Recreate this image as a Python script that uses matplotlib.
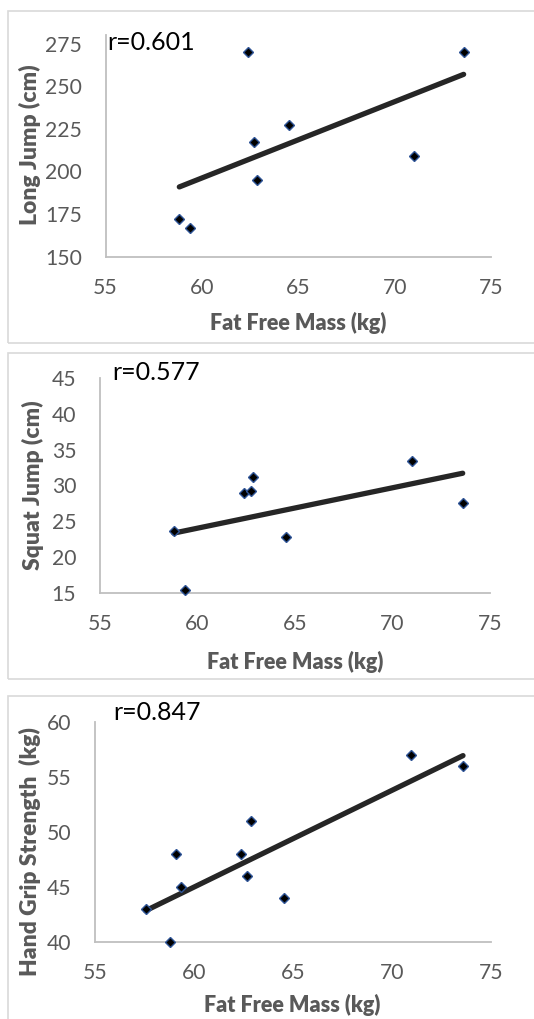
import numpy as np
import matplotlib
matplotlib.use("Agg")
import matplotlib.pyplot as plt
from matplotlib.patches import Rectangle

plt.rcParams['font.family'] = ['Lato', 'DejaVu Sans']

# ---- data ----
ffm_lj = [58.83, 59.37, 62.38, 62.73, 62.85, 64.54, 70.98, 73.58]
long_jump = [172, 167, 270, 217, 195, 227, 209, 270]

ffm_sj = [58.78, 59.38, 62.37, 62.74, 62.85, 64.52, 70.98, 73.60]
squat_jump = [23.6, 15.4, 28.9, 29.2, 31.2, 22.8, 33.4, 27.5]

ffm_hg = [57.56, 58.81, 59.11, 59.35, 62.40, 62.70, 62.87, 64.54, 70.97, 73.60]
hand_grip = [43, 40, 48, 45, 48, 46, 51, 44, 57, 56]

x_ticks = [55, 60, 65, 70, 75]
lj_ticks = [150, 175, 200, 225, 250, 275]
sj_ticks = [15, 20, 25, 30, 35, 40, 45]
hg_ticks = [40, 45, 50, 55, 60]

r_labels = ["r=0.601", "r=0.577", "r=0.847"]
y_labels = ["Long Jump (cm)", "Squat Jump (cm)", "Hand Grip Strength  (kg)"]
x_label = "Fat Free Mass (kg)"

W, H = 534, 1019
fig = plt.figure(figsize=(W / 100, H / 100), dpi=100)


def fx(px):
    return px / W


def fy(py):
    return 1 - py / H


# chart-area frames
for top, bot in [(11, 343), (353, 679), (696, 1030)]:
    fig.patches.append(Rectangle((fx(8), fy(bot)), fx(600), fy(top) - fy(bot),
                                 transform=fig.transFigure, fill=False,
                                 edgecolor='#D9D9D9', linewidth=1.2, zorder=0))

panels = [
    dict(x=ffm_lj, y=long_jump, ticks=lj_ticks, ylim=(150, 280),
         box=(105.5, 491, 35, 256.7), r=r_labels[0], rpos=(107, 43),
         ylab=y_labels[0], ylabx=30, ylaby=145, xlaby=323, xlabx=298),
    dict(x=ffm_sj, y=squat_jump, ticks=sj_ticks, ylim=(15, 45),
         box=(100, 490, 378, 592.7), r=r_labels[1], rpos=(112, 373),
         ylab=y_labels[1], ylabx=33, ylaby=485, xlaby=662, xlabx=295),
    dict(x=ffm_hg, y=hand_grip, ticks=hg_ticks, ylim=(40, 60),
         box=(95, 490.7, 721.7, 942.3), r=r_labels[2], rpos=(113, 712),
         ylab=y_labels[2], ylabx=30, ylaby=852, xlaby=1005, xlabx=292),
]

grey = '#595959'
for p in panels:
    l, r_, t, b = p['box']
    ax = fig.add_axes([fx(l), fy(b), fx(r_) - fx(l), fy(t) - fy(b)])
    ax.set_xlim(55, 75)
    ax.set_ylim(*p['ylim'])
    ax.set_xticks(x_ticks)
    ax.set_yticks(p['ticks'])
    ax.tick_params(length=0, labelsize=15.2, labelcolor=grey, pad=15)
    ax.tick_params(axis='y', pad=17)
    for s in ['top', 'right']:
        ax.spines[s].set_visible(False)
    for s in ['left', 'bottom']:
        ax.spines[s].set_color('#BFBFBF')
        ax.spines[s].set_linewidth(1.3)
    ax.patch.set_alpha(0)
    xs = np.array(p['x'])
    ys = np.array(p['y'])
    k, c = np.polyfit(xs, ys, 1)
    xl = np.array([xs.min(), xs.max()])
    ax.plot(xl, k * xl + c, color='#262626', lw=3.8, solid_capstyle='round', zorder=3)
    ax.plot(xs, ys, linestyle='none', marker='D', ms=5, mfc='black',
            mec='#2F5597', mew=1.0, zorder=4, clip_on=False)
    fig.text(fx(p['rpos'][0]), fy(p['rpos'][1]), p['r'], fontsize=18,
             color='black', ha='left', va='center')
    fig.text(fx(p['ylabx']), fy(p['ylaby']), p['ylab'], fontsize=16.5,
             fontweight='heavy', color=grey, rotation=90, ha='center', va='center')
    fig.text(fx(p['xlabx']), fy(p['xlaby']), x_label, fontsize=15.5,
             fontweight='heavy', color=grey, ha='center', va='center')

fig.savefig('out.png', dpi=100)
